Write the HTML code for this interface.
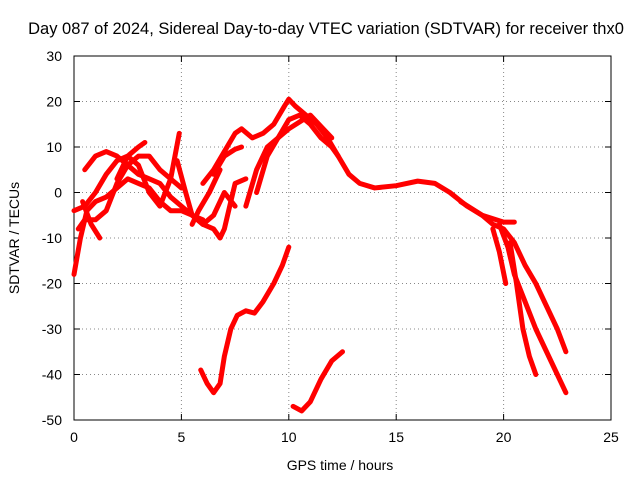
<!DOCTYPE html>
<html><head><meta charset="utf-8"><style>
body{margin:0;background:#fff}
svg text{font-family:"Liberation Sans",sans-serif;font-size:14px;fill:#000}
</style></head><body>
<svg id="c" width="640" height="480"></svg>
<script>
const xTicks=[0,5,10,15,20,25];
const yTicks=[30,20,10,0,-10,-20,-30,-40,-50];
const s1=[[5.9,-39],[6.2,-42],[6.5,-44],[6.8,-42],[7.0,-36],[7.3,-30],[7.6,-27],[8.0,-26],[8.4,-26.5],[8.8,-24],[9.3,-20],[9.7,-16],[10.0,-12]];
const s2=[[10.2,-47],[10.6,-48],[11.0,-46],[11.5,-41],[12.0,-37],[12.5,-35]];
const s3=[[6.0,2],[6.5,5],[7.0,9],[7.5,13],[7.8,14],[8.3,12],[8.8,13],[9.3,15],[9.8,19],[10.0,20.5],[10.3,19],[10.8,17],[11.3,15],[11.8,12],[12.3,8],[12.8,4],[13.3,2],[14,1],[15,1.5],[16,2.5],[16.8,2],[17.5,0],[18.3,-3],[19,-5],[19.5,-7],[20,-8],[20.5,-11],[21,-16],[21.5,-20],[22,-25],[22.5,-30],[22.9,-35]];
const s4=[[19.8,-7],[20.2,-12],[20.5,-18],[21,-24],[21.5,-30],[22.0,-35],[22.5,-40],[22.9,-44]];
const s5=[[19.5,-8],[19.8,-13],[20.1,-20]];
const s6=[[20.3,-11],[20.6,-20],[20.9,-30],[21.2,-36],[21.5,-40]];
const s7=[[18,-2],[19,-5],[20,-6.5],[20.5,-6.5]];
const s8=[[8.5,0],[9,8],[9.5,12],[10,16],[10.5,17],[11,15],[11.5,12],[12,10],[12.3,8]];
const s9=[[8,-3],[8.5,5],[9,10],[10,14],[11,17],[12,12]];
const s10=[[0,-18],[0.3,-10],[0.6,-4],[1,-2],[1.5,-1],[2,1],[2.5,3],[3,2],[3.5,1],[4,-2],[4.5,-4],[5,-4],[5.5,-5],[6,-7],[6.5,-8],[6.8,-10],[7,-8],[7.3,-2],[7.5,2],[8,3]];
const s11=[[0.2,-8],[0.5,-6],[1,-6],[1.5,-4],[2,2],[2.5,6],[3,8],[3.5,8],[4,5],[4.5,3],[5,1]];
const s12=[[0.5,5],[1,8],[1.5,9],[2,8],[2.5,6],[3,4],[3.5,3],[4,2],[4.5,-1],[5,-3],[5.5,-5],[6,-6]];
const s13=[[0,-4],[0.5,-3],[1,0],[1.5,4],[2,7],[2.5,8],[3,10],[3.3,11]];
const s14=[[0.4,-2],[0.8,-7],[1.2,-10]];
const s15=[[2,3],[2.5,8],[3,6],[3.5,0],[4,-3],[4.5,3],[4.9,13]];
const s16=[[4.8,7],[5.2,0],[5.5,-5],[6,-7],[6.5,-5],[7,0],[7.5,-3]];
const s17=[[6.5,4],[7,8],[7.5,9.5],[7.8,10]];
const s18=[[5.5,-7],[5.8,-4],[6.3,0],[6.8,5]];
const series=[s1,s2,s3,s4,s5,s6,s7,s8,s9,s10,s11,s12,s13,s14,s15,s16,s17,s18];
const L=74,R=611,T=56,B=420;
const X=v=>L+(v-0)/25*(R-L), Y=v=>T+(30-v)/80*(B-T);
const svg=document.getElementById('c');const NS='http://www.w3.org/2000/svg';
function mk(t,a,p){const e=document.createElementNS(NS,t);for(const k in a)e.setAttribute(k,a[k]);(p||svg).appendChild(e);return e;}
xTicks.forEach(v=>{const x=X(v);
 if(v>0&&v<25){const g=mk('line',{x1:x,x2:x,y1:T,y2:B,stroke:'#888','stroke-dasharray':'1,3'});}
 mk('line',{x1:x,x2:x,y1:B,y2:B-6,stroke:'#000'});mk('line',{x1:x,x2:x,y1:T,y2:T+6,stroke:'#000'});
 const t=mk('text',{x:x,y:B+22,'text-anchor':'middle'});t.textContent=v;
 });
yTicks.forEach(v=>{const y=Y(v);
 if(v<30&&v>-50){const g=mk('line',{x1:L,x2:R,y1:y,y2:y,stroke:'#888','stroke-dasharray':'1,3'});}
 mk('line',{x1:L,x2:L+6,y1:y,y2:y,stroke:'#000'});mk('line',{x1:R,x2:R-6,y1:y,y2:y,stroke:'#000'});
 const t=mk('text',{x:L-12,y:y+5,'text-anchor':'end'});t.textContent=v;
 });
const fr=mk('rect',{x:L,y:T,width:R-L,height:B-T,fill:'none',stroke:'#000'});

series.forEach(s=>{const p=mk('polyline',{points:s.map(d=>X(d[0])+','+Y(d[1])).join(' '),fill:'none',stroke:'#f00','stroke-width':5,'stroke-linejoin':'round','stroke-linecap':'round'});
 });
let t=mk('text',{x:326,y:34,'text-anchor':'middle','font-size':'16.5px',style:'font-size:16.5px'});t.textContent='Day 087 of 2024, Sidereal Day-to-day VTEC variation (SDTVAR) for receiver thx0';

t=mk('text',{x:340,y:470,'text-anchor':'middle'});t.textContent='GPS time / hours';

t=mk('text',{x:0,y:0,'text-anchor':'middle',transform:'translate(19,238) rotate(-90)'});t.textContent='SDTVAR / TECUs';

</script></body></html>
